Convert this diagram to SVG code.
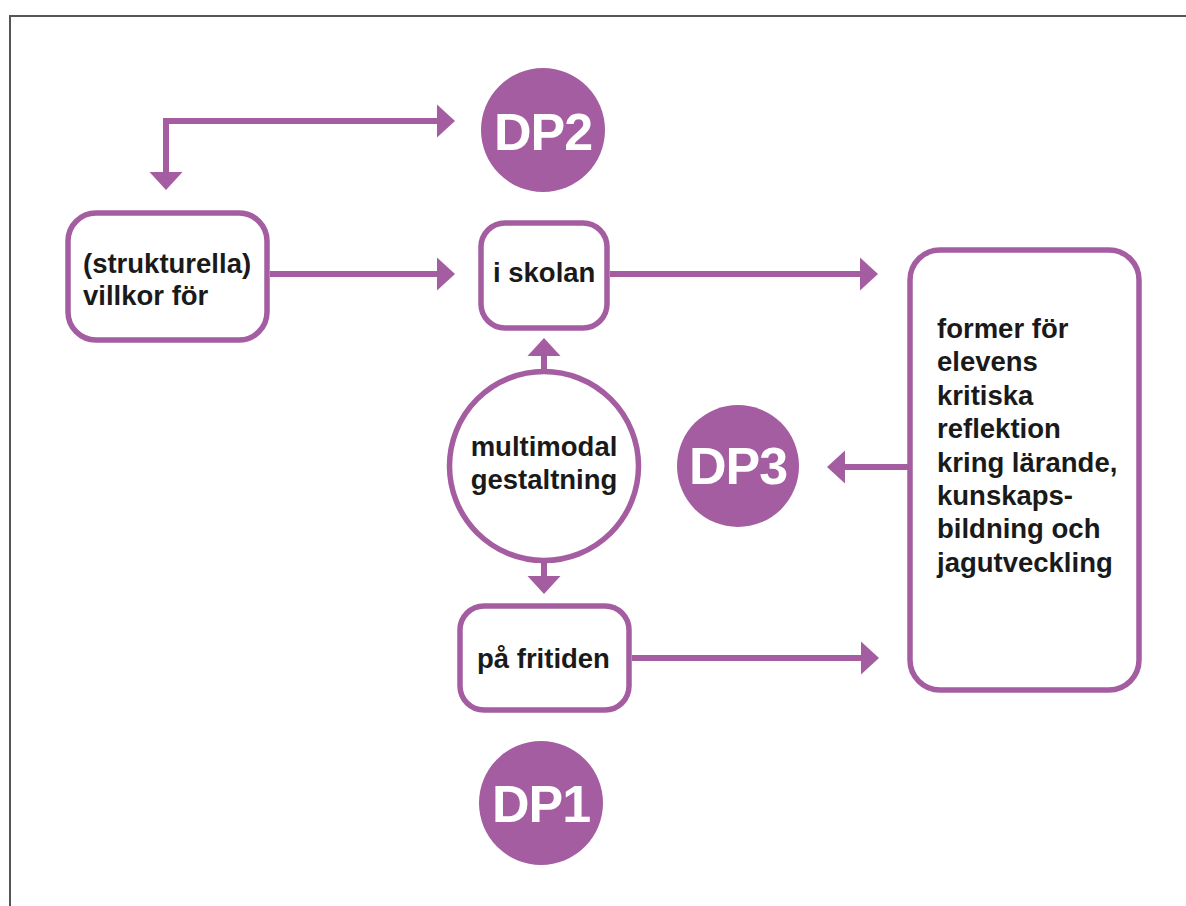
<svg xmlns="http://www.w3.org/2000/svg" width="1186" height="906" viewBox="0 0 1186 906">
<style>
.box{fill:#fff;stroke:#A45DA1;stroke-width:5.5}
.dp{fill:#A45DA1}
.dpt{fill:#fff;font-family:"Liberation Sans",Arial,sans-serif;font-weight:bold;font-size:52px;letter-spacing:-1px;text-anchor:middle}
.t{fill:#1a1a1a;font-family:"Liberation Sans",Arial,sans-serif;font-weight:bold;font-size:27.5px}
.c{fill:none;stroke:#A45DA1;stroke-width:6}
</style>
<defs>
<marker id="ah" markerUnits="userSpaceOnUse" markerWidth="20" markerHeight="36" viewBox="0 0 20 36" refX="0" refY="18" orient="auto-start-reverse">
<path d="M0,1.5 L18,18 L0,34.5 Z" fill="#A45DA1"/>
</marker>
</defs>
<rect width="1186" height="906" fill="#fff"/>
<path d="M10,906 V16 H1186" fill="none" stroke="#555" stroke-width="2"/>
<g id="connectors">
<path class="c" d="M437,121 H166 V172" marker-start="url(#ah)" marker-end="url(#ah)"/>
<path class="c" d="M270,274 H437" marker-end="url(#ah)"/>
<path class="c" d="M610,274 H860" marker-end="url(#ah)"/>
<path class="c" d="M544,370 V356" marker-end="url(#ah)"/>
<path class="c" d="M544,562 V576" marker-end="url(#ah)"/>
<path class="c" d="M632,658 H861" marker-end="url(#ah)"/>
<path class="c" d="M908,467 H845" marker-end="url(#ah)"/>
</g>
<g id="dp2"><circle class="dp" cx="543" cy="130" r="62"/><text class="dpt" x="543" y="150">DP2</text></g>
<g id="villkor"><rect class="box" x="68" y="213" width="199" height="127" rx="28"/>
<text class="t" x="83" y="273">(strukturella)</text><text class="t" x="83" y="305">villkor för</text></g>
<g id="skolan"><rect class="box" x="481" y="223" width="126" height="105" rx="24"/>
<text class="t" x="493" y="282">i skolan</text></g>
<g id="multimodal"><circle class="box" cx="544" cy="466" r="94.5"/>
<text class="t" x="544" y="456" text-anchor="middle">multimodal</text><text class="t" x="544" y="489" text-anchor="middle">gestaltning</text></g>
<g id="dp3"><circle class="dp" cx="738" cy="466" r="61"/><text class="dpt" x="738" y="484">DP3</text></g>
<g id="fritiden"><rect class="box" x="460" y="606" width="169" height="104" rx="24"/>
<text class="t" x="477" y="668">på fritiden</text></g>
<g id="former"><rect class="box" x="910" y="250" width="229" height="440" rx="30"/>
<text class="t" x="937" y="338">former för</text>
<text class="t" x="937" y="371">elevens</text>
<text class="t" x="937" y="405">kritiska</text>
<text class="t" x="937" y="438">reflektion</text>
<text class="t" x="937" y="472">kring lärande,</text>
<text class="t" x="937" y="505">kunskaps-</text>
<text class="t" x="937" y="538">bildning och</text>
<text class="t" x="937" y="572">jagutveckling</text></g>
<g id="dp1"><circle class="dp" cx="541" cy="803" r="62"/><text class="dpt" x="541" y="822">DP1</text></g>
</svg>
